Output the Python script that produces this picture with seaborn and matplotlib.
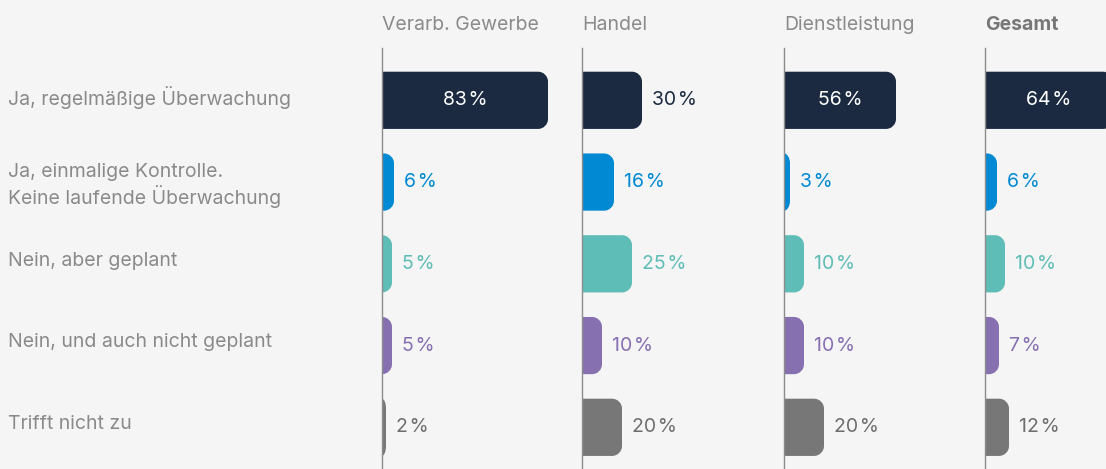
import matplotlib
matplotlib.use("Agg")
import matplotlib.pyplot as plt
import seaborn as sns
import numpy as np
from matplotlib.path import Path
from matplotlib.patches import PathPatch
from matplotlib.transforms import blended_transform_factory

categories = ["Ja, regelmäßige Überwachung",
              "Ja, einmalige Kontrolle.\nKeine laufende Überwachung",
              "Nein, aber geplant",
              "Nein, und auch nicht geplant",
              "Trifft nicht zu"]
panels = ["Verarb. Gewerbe", "Handel", "Dienstleistung", "Gesamt"]
verarb = [83, 6, 5, 5, 2]
handel = [30, 16, 25, 10, 20]
dienst = [56, 3, 10, 10, 20]
gesamt = [64, 6, 10, 7, 12]
series = [verarb, handel, dienst, gesamt]

colors = ["#1b2a41", "#0189d3", "#5fbdb7", "#8670b0", "#777777"]
label_colors = ["#1b2a41", "#0189d3", "#5fbdb7", "#8670b0", "#6e6e6e"]
BG = "#f5f5f5"
TXT = "#8a8a8a"
FS = 14.0
FW = "normal"

sns.set_theme(style="white")
plt.rcParams['font.family'] = ['Inter', 'DejaVu Sans']

W, H = 1106, 469
fig = plt.figure(figsize=(W / 100, H / 100), dpi=100, facecolor=BG)

lefts = [382, 582, 784, 985]
widths = [200, 202, 201, 121]
top_px, bot_px = 48, 469


def rounded_right(x0, y0, w, h, rx, ry):
    x1, y1 = x0 + w, y0 + h
    rx = min(rx, w)
    ry = min(ry, h / 2)
    k = 0.5523
    verts = [(x0, y0), (x1 - rx, y0),
             (x1 - rx + k * rx, y0), (x1, y0 + ry - k * ry), (x1, y0 + ry),
             (x1, y1 - ry),
             (x1, y1 - ry + k * ry), (x1 - rx + k * rx, y1), (x1 - rx, y1),
             (x0, y1), (x0, y0)]
    codes = [Path.MOVETO, Path.LINETO,
             Path.CURVE4, Path.CURVE4, Path.CURVE4,
             Path.LINETO,
             Path.CURVE4, Path.CURVE4, Path.CURVE4,
             Path.LINETO, Path.CLOSEPOLY]
    return Path(verts, codes)


axes = []
for i, (name, vals) in enumerate(zip(panels, series)):
    ax = fig.add_axes([lefts[i] / W, (H - bot_px) / H, widths[i] / W, (bot_px - top_px) / H])
    ax.set_facecolor("none")
    sns.barplot(x=vals, y=categories, hue=categories, palette=colors, orient="h",
                width=0.7, legend=False, saturation=1, ax=ax)
    ax.set_xlim(0, widths[i] / 2.0)
    ax.set_ylim(4.51, -0.64)
    ax.set_xticks([])
    ax.set_yticks([])
    ax.set_xlabel("")
    ax.set_ylabel("")
    for s in ["top", "right", "bottom"]:
        ax.spines[s].set_visible(False)
    ax.spines["left"].set_color("#8c8c8c")
    ax.spines["left"].set_linewidth(1.0)
    ax.spines["left"].set_zorder(5)

    px_per_x = 2.0
    px_per_y = (bot_px - top_px) / (4.51 + 0.64)
    rx = 10 / px_per_x
    ry = 10 / px_per_y
    patches = list(ax.patches)
    for p in patches:
        x0, y0 = p.get_x(), p.get_y()
        w, h = p.get_width(), p.get_height()
        fc = p.get_facecolor()
        p.remove()
        pp = PathPatch(rounded_right(x0, y0, w, h, rx, ry), facecolor=fc,
                       edgecolor="none", clip_on=True)
        ax.add_patch(pp)

    for j, v in enumerate(vals):
        lab = f"{v}\u200a%"
        if v >= 40:
            ax.text(v / 2, j, lab, ha="center", va="center", color="white",
                    fontsize=FS, fontweight=FW)
        else:
            ax.annotate(lab, xy=(v, j), xytext=(7, 0), textcoords="offset points",
                        ha="left", va="center", color=label_colors[j],
                        fontsize=FS, fontweight=FW)

    ax.text(0, 1.0 + (top_px - 25) / (bot_px - top_px), name, transform=ax.transAxes,
            ha="left", va="center", fontsize=FS,
            color="#777777" if name == "Gesamt" else TXT,
            fontweight="bold" if name == "Gesamt" else FW)
    axes.append(ax)

trans = blended_transform_factory(fig.transFigure, axes[0].transData)
for j, c in enumerate(categories):
    dy = 0.04 if "\n" in c else -0.04
    axes[0].text(8 / W, j + dy, c, transform=trans, ha="left", va="center",
                 fontsize=FS, color=TXT, fontweight=FW, linespacing=1.2,
                 clip_on=False)

fig.savefig("out.png", dpi=100, facecolor=BG)
